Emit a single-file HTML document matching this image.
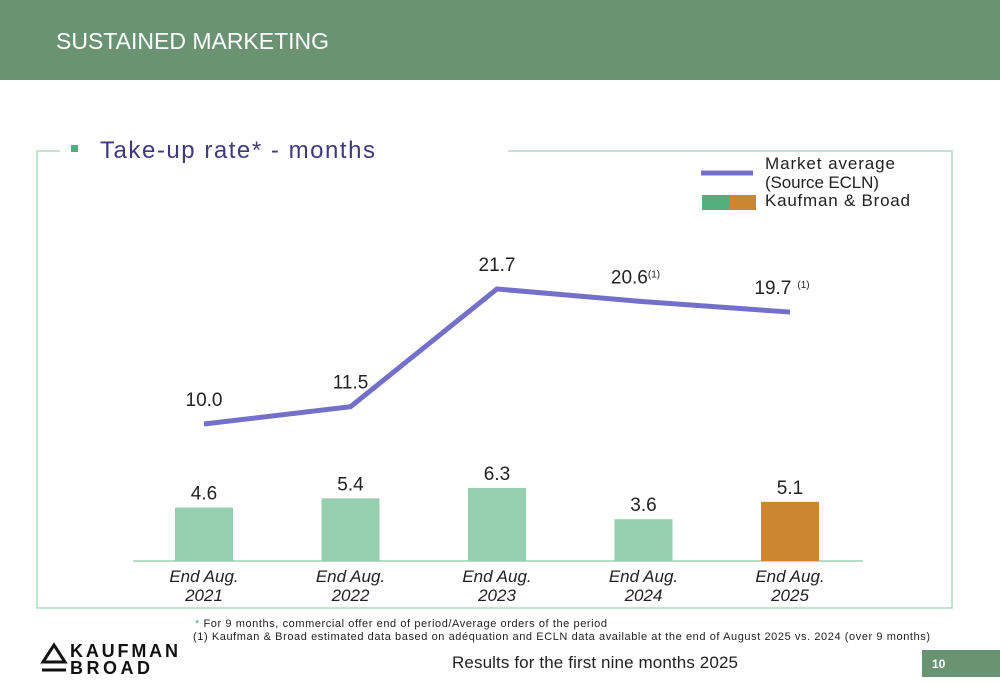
<!DOCTYPE html>
<html><head><meta charset="utf-8"><style>
body{margin:0;width:1000px;height:685px;position:relative;background:#fff;font-family:"Liberation Sans",sans-serif;overflow:hidden}
.abs{position:absolute}
</style></head><body>
<div class="abs" style="left:0;top:0;width:1000px;height:80px;background:#6a9374"></div>
<div class="abs" style="left:56px;top:28px;color:#fff;font-size:23px;letter-spacing:0">SUSTAINED MARKETING</div>
<svg class="abs" style="left:0;top:0" width="1000" height="685">
<g fill="none" stroke="#a9dfc2" stroke-width="1.5">
<polyline points="60,151 37,151 37,608 952,608 952,151 508,151"/>
</g>
<rect x="71" y="145" width="7" height="7" fill="#4fae7b"/>
<text x="100" y="158" font-size="24" fill="#3f3a80" textLength="275">Take-up rate* - months</text>
<line x1="701" y1="173" x2="753" y2="173" stroke="#7470c9" stroke-width="5"/>
<rect x="702" y="195" width="27" height="15" fill="#52b07e"/>
<rect x="729" y="195" width="27" height="15" fill="#cd8532"/>
<g font-size="17" fill="#222">
<text x="765" y="169" textLength="130">Market average</text>
<text x="765" y="188" textLength="114">(Source ECLN)</text>
<text x="765" y="206" textLength="145">Kaufman &amp; Broad</text>
</g>
<line x1="133" y1="561" x2="863" y2="561" stroke="#9fd2b5" stroke-width="1.5"/>
<g id="marks"></g>
<g font-size="11" fill="#222">
<text x="195" y="627" textLength="412"><tspan fill="#4fae7b">*</tspan> For 9 months, commercial offer end of period/Average orders of the period</text>
<text x="193" y="640" textLength="737">(1) Kaufman &amp; Broad estimated data based on adéquation and ECLN data available at the end of August 2025 vs. 2024 (over 9 months)</text>
</g>
<g>
<polygon points="43,662 54,645 65,662" fill="none" stroke="#111" stroke-width="3"/>
<line x1="42" y1="670" x2="66" y2="670" stroke="#111" stroke-width="3"/>
<text x="70" y="657" font-size="18" font-weight="bold" fill="#111" textLength="108">KAUFMAN</text>
<text x="70" y="674" font-size="18" font-weight="bold" fill="#111" textLength="80">BROAD</text>
</g>
<text x="452" y="668" font-size="17" fill="#222" textLength="286">Results for the first nine months 2025</text>
<rect x="922" y="650" width="78" height="27" fill="#6a9374"/>
<text x="932" y="668" font-size="12" font-weight="bold" fill="#fff">10</text>
</svg>
<script>
const categories=["2021","2022","2023","2024","2025"];
const kbValues=[4.6,5.4,6.3,3.6,5.1];
const marketValues=[10.0,11.5,21.7,20.6,19.7];
const marketLabels=["10.0","11.5","21.7","20.6","19.7"];
const marketNotes=["","","","(1)","(1)"];
const NS="http://www.w3.org/2000/svg";
const g=document.getElementById('marks');
const x=i=>204+i*146.5;
const yBar=v=>561-v*11.6;
const yLine=v=>424-(v-10)*11.54;
function mk(t,a){const e=document.createElementNS(NS,t);for(const k in a)e.setAttribute(k,a[k]);g.appendChild(e);return e;}
kbValues.forEach((v,i)=>{
 const r=mk('rect',{x:x(i)-29,y:yBar(v),width:58,height:561-yBar(v),fill:i==4?'#cd8532':'#95cfb0'});
 
 
 const t=mk('text',{x:x(i),y:yBar(v)-8,'font-size':19,'text-anchor':'middle',fill:'#222'});
 t.textContent=v.toFixed(1);
 
 
 const c=mk('text',{x:x(i),y:582,'font-size':17,'font-style':'italic','text-anchor':'middle',fill:'#222'});
 c.textContent='End Aug.';
 
 
 const c2=mk('text',{x:x(i),y:601,'font-size':17,'font-style':'italic','text-anchor':'middle',fill:'#222'});
 c2.textContent=categories[i];
 
 
});
const pl=mk('polyline',{points:marketValues.map((v,i)=>x(i)+','+yLine(v)).join(' '),fill:'none',stroke:'#7470c9','stroke-width':5});


marketValues.forEach((v,i)=>{
 const t=mk('text',{x:x(i)-(marketNotes[i]?8:0),y:yLine(v)-18,'font-size':19,'text-anchor':'middle',fill:'#222'});
 t.textContent=marketLabels[i];
 if(marketNotes[i]){const s=document.createElementNS(NS,'tspan');s.setAttribute('font-size','10');s.setAttribute('dy','-6');s.setAttribute('dx',i==4?'6':'0');s.textContent=marketNotes[i];t.appendChild(s);}
 
 
});
</script>
</body></html>
